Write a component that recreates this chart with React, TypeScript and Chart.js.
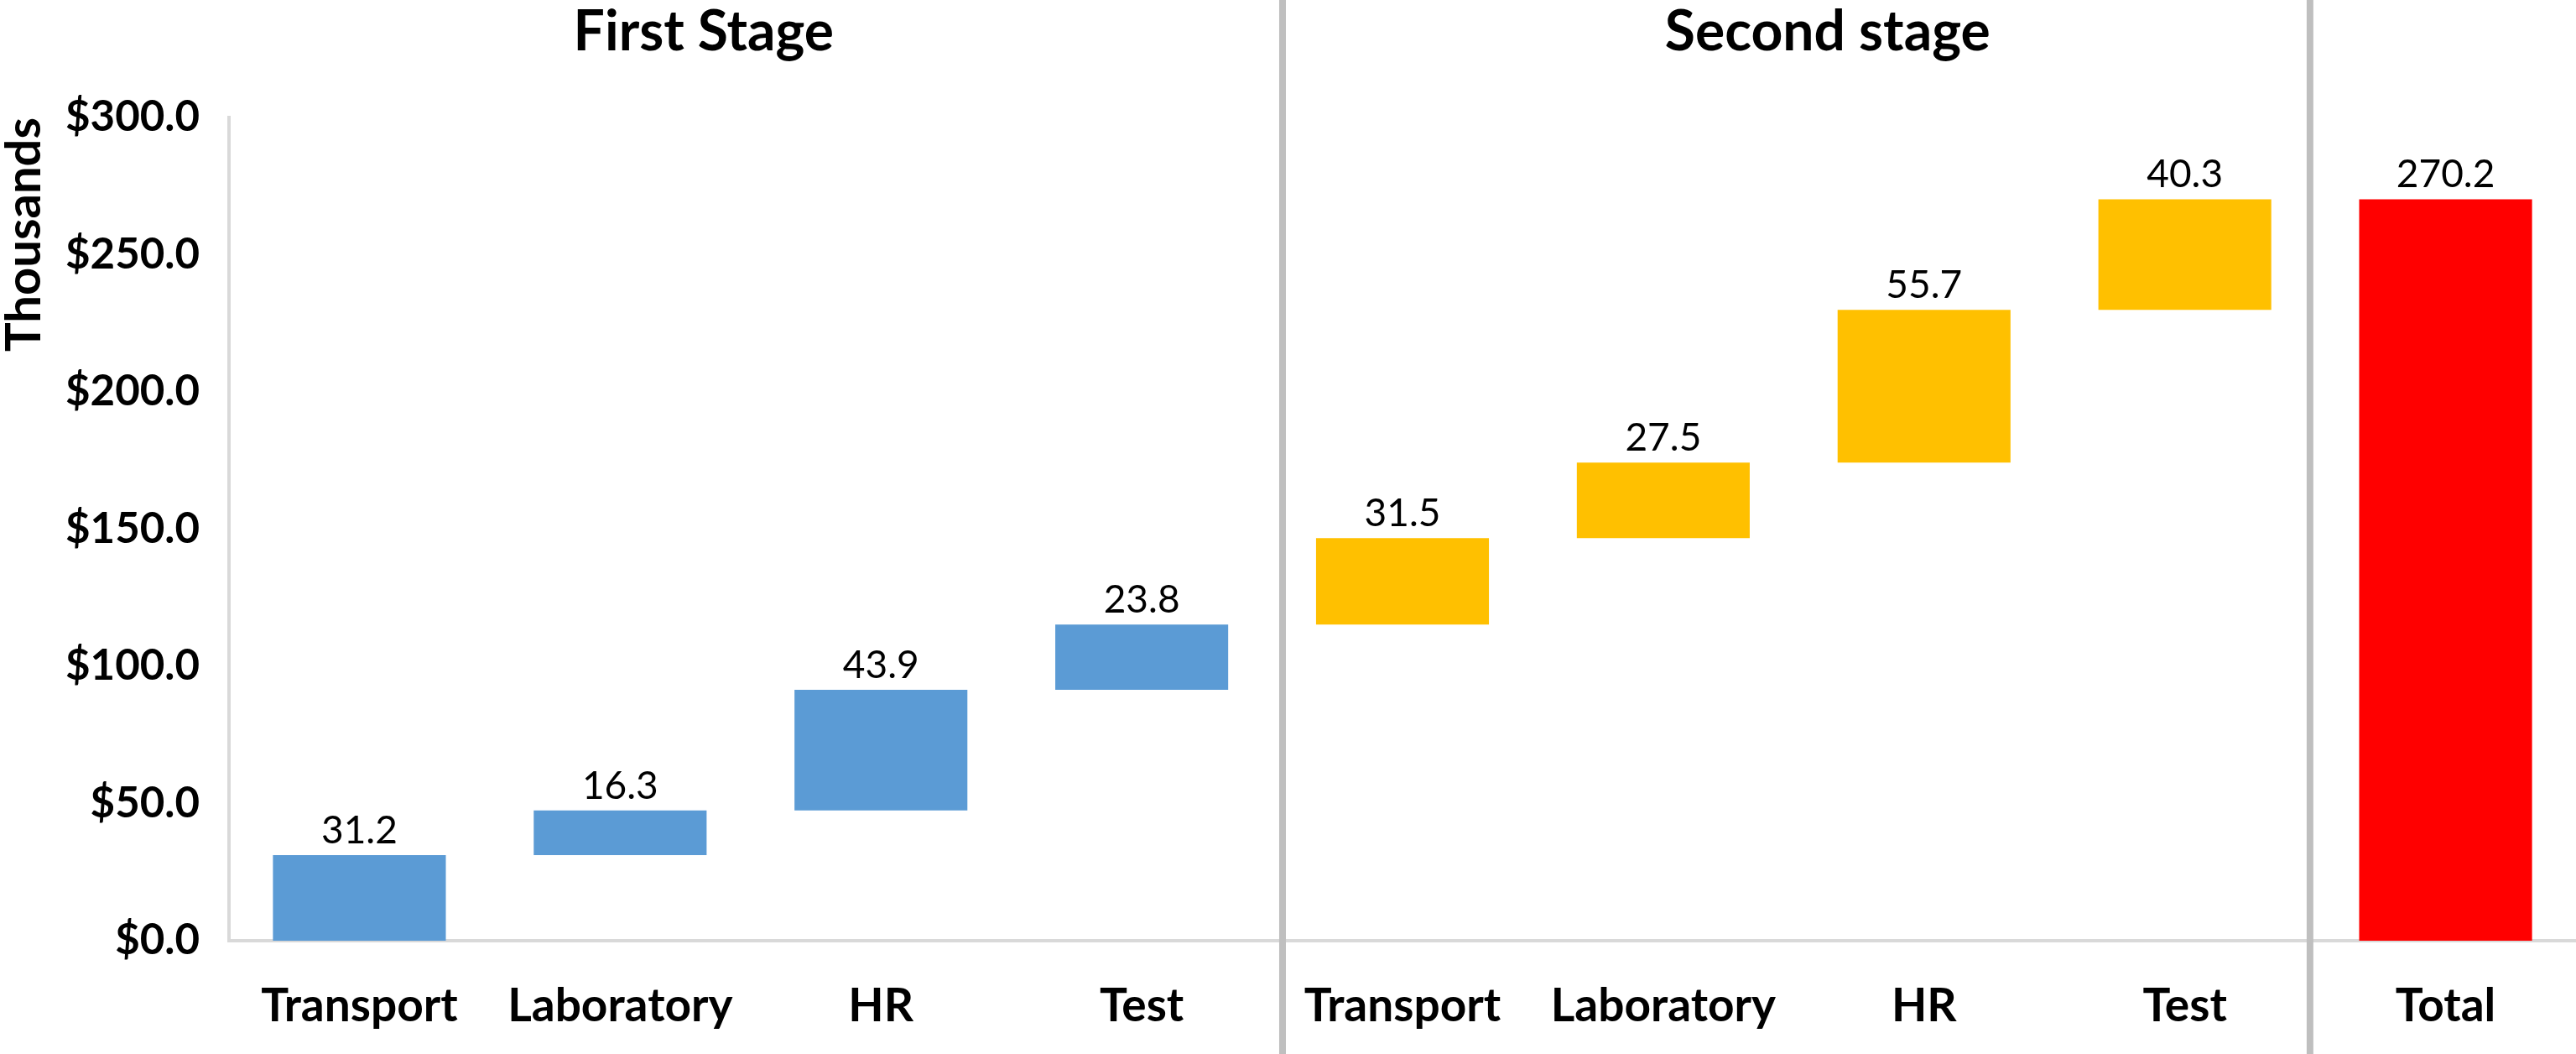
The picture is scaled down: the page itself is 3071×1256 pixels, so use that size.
import React, { useEffect, useRef } from 'react';
import { Chart, registerables, Plugin } from 'chart.js';

Chart.register(...registerables);

// Chart values (thousands of $)
const categories = ['Transport', 'Laboratory', 'HR', 'Test', 'Transport', 'Laboratory', 'HR', 'Test', 'Total'];
const firstStageCosts = [31.2, 16.3, 43.9, 23.8];
const secondStageCosts = [31.5, 27.5, 55.7, 40.3];
const totalCost = 270.2;
const stageTitles = ['First Stage', 'Second stage'];

const FIRST_COLOR = '#5B9BD5';
const SECOND_COLOR = '#FFC000';
const TOTAL_COLOR = '#FF0000';
const FONT = 'Lato';

// build the floating [start, end] ranges of the waterfall
const stepCosts = [...firstStageCosts, ...secondStageCosts];
const ranges: [number, number][] = [];
let running = 0;
stepCosts.forEach(v => {
    ranges.push([running, running + v]);
    running += v;
});
ranges.push([0, totalCost]);
const labelValues = [...stepCosts, totalCost];
const barColors = [
    ...firstStageCosts.map(() => FIRST_COLOR),
    ...secondStageCosts.map(() => SECOND_COLOR),
    TOTAL_COLOR,
];

// separators, stage headings and value labels
const waterfallDecor: Plugin<'bar'> = {
    id: 'waterfallDecor',
    afterDatasetsDraw(chart) {
        const { ctx } = chart;
        const x = chart.scales.x;
        ctx.save();

        // vertical separators between the groups
        ctx.strokeStyle = '#bfbfbf';
        ctx.lineWidth = 8;
        [3.54, 7.48].forEach(v => {
            const px = x.getPixelForValue(v);
            ctx.beginPath();
            ctx.moveTo(px, 0);
            ctx.lineTo(px, chart.height);
            ctx.stroke();
        });

        // stage headings
        ctx.fillStyle = '#000';
        ctx.textAlign = 'center';
        ctx.textBaseline = 'alphabetic';
        ctx.font = `bold 66px ${FONT}`;
        ctx.fillText(stageTitles[0], x.getPixelForValue(1.32), 60);
        ctx.fillText(stageTitles[1], x.getPixelForValue(5.63), 60);

        // value labels above each bar
        ctx.font = `46px ${FONT}`;
        const meta = chart.getDatasetMeta(0);
        meta.data.forEach((bar, i) => {
            const { x: bx, y: by } = bar.getProps(['x', 'y'], true);
            ctx.fillText(labelValues[i].toFixed(1), bx, by - 14);
        });
        ctx.restore();
    },
};

const App: React.FC = () => {
    const ref = useRef<HTMLCanvasElement>(null);
    const chartRef = useRef<Chart<'bar'> | null>(null);

    useEffect(() => {
        document.body.style.margin = '0';
        document.body.style.overflow = 'hidden';
        if (!ref.current) return;

        if (chartRef.current) {
            chartRef.current.destroy();
        }

        chartRef.current = new Chart(ref.current, {
            type: 'bar',
            data: {
                labels: categories,
                datasets: [
                    {
                        label: 'Cost',
                        data: ranges as any,
                        backgroundColor: barColors,
                        borderWidth: 0,
                        categoryPercentage: 1,
                        barPercentage: 0.663,
                    },
                ],
            },
            options: {
                animation: false,
                responsive: true,
                maintainAspectRatio: false,
                layout: { padding: { top: 140, right: 0, left: 0, bottom: 0 } },
                plugins: {
                    legend: { display: false },
                    tooltip: { enabled: false },
                },
                scales: {
                    x: {
                        grid: { display: false, drawTicks: false },
                        border: { display: true, color: '#d9d9d9', width: 4 },
                        ticks: {
                            color: '#000',
                            padding: 45,
                            maxRotation: 0,
                            autoSkip: false,
                            font: { family: FONT, size: 55, weight: 'bold' },
                        },
                        afterFit: (scale) => { scale.height = 135; },
                    },
                    y: {
                        min: 0,
                        max: 300,
                        grid: { display: false, drawTicks: false },
                        border: { display: true, color: '#d9d9d9', width: 4 },
                        ticks: {
                            stepSize: 50,
                            color: '#000',
                            padding: 35,
                            font: { family: FONT, size: 51, weight: 'bold' },
                            callback: (v) => '$' + Number(v).toFixed(1),
                        },
                        title: {
                            display: true,
                            text: 'Thousands',
                            align: 'end',
                            color: '#000',
                            padding: { top: 0, bottom: 0 },
                            font: { family: FONT, size: 58, weight: 'bold', lineHeight: 1 },
                        },
                        afterFit: (scale) => { scale.width = 273; },
                    },
                },
            },
            plugins: [waterfallDecor],
        });

        return () => {
            if (chartRef.current) {
                chartRef.current.destroy();
                chartRef.current = null;
            }
        };
    }, []);

    return (
        <div style={{ position: 'relative', width: '3071px', height: '1256px' }}>
            <canvas id="chart-waterfall-costs" ref={ref}></canvas>
        </div>
    );
};

export default App;
